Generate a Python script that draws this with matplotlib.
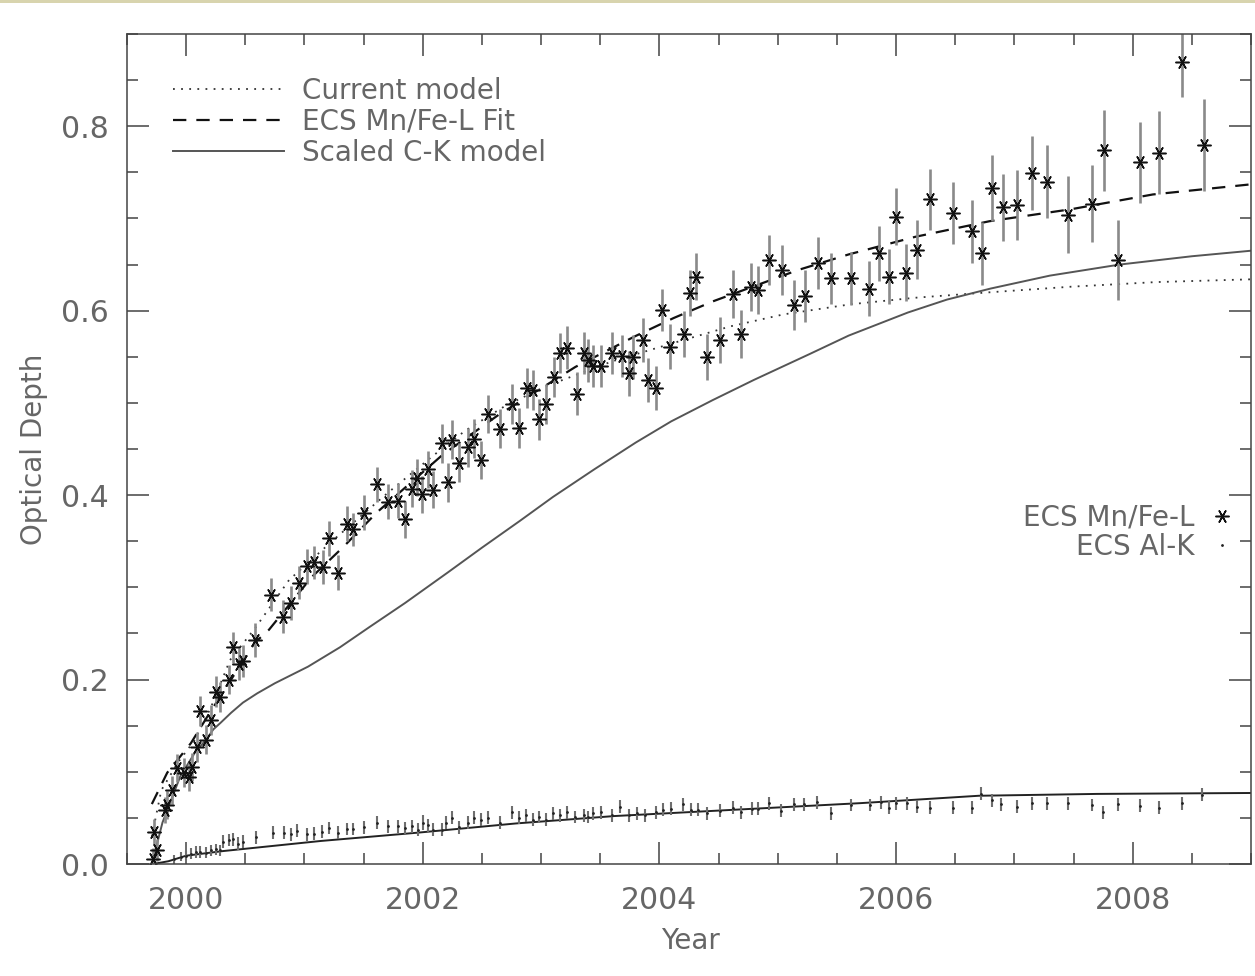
import numpy as np
import matplotlib.pyplot as plt
from matplotlib.patches import Rectangle

# ECS Mn/Fe-L optical depth measurements
mn_year = [1999.72, 1999.73, 1999.75, 1999.82, 1999.84, 1999.88, 1999.92, 1999.98, 2000.02, 2000.05,
           2000.09, 2000.12, 2000.17, 2000.21, 2000.25, 2000.29, 2000.36, 2000.40, 2000.45, 2000.48,
           2000.58, 2000.72, 2000.82, 2000.89, 2000.95, 2001.02, 2001.08, 2001.16, 2001.21, 2001.28,
           2001.36, 2001.41, 2001.50, 2001.61, 2001.71, 2001.79, 2001.85, 2001.91, 2001.95, 2001.99,
           2002.04, 2002.09, 2002.16, 2002.21, 2002.25, 2002.31, 2002.38, 2002.43, 2002.49, 2002.55,
           2002.65, 2002.75, 2002.81, 2002.88, 2002.93, 2002.98, 2003.04, 2003.11, 2003.16, 2003.22,
           2003.30, 2003.36, 2003.40, 2003.44, 2003.51, 2003.60, 2003.68, 2003.74, 2003.78, 2003.86,
           2003.90, 2003.97, 2004.02, 2004.09, 2004.21, 2004.26, 2004.31, 2004.40, 2004.51, 2004.62,
           2004.69, 2004.77, 2004.83, 2004.93, 2005.04, 2005.14, 2005.23, 2005.34, 2005.45, 2005.62,
           2005.77, 2005.86, 2005.94, 2006.00, 2006.08, 2006.18, 2006.29, 2006.48, 2006.64, 2006.73,
           2006.81, 2006.90, 2007.02, 2007.15, 2007.28, 2007.45, 2007.66, 2007.76, 2007.88, 2008.06,
           2008.22, 2008.42, 2008.60]
mn_val = [0.005, 0.035, 0.015, 0.059, 0.064, 0.080, 0.104, 0.099, 0.094, 0.105,
          0.127, 0.166, 0.135, 0.156, 0.187, 0.181, 0.200, 0.235, 0.217, 0.220,
          0.243, 0.292, 0.268, 0.283, 0.305, 0.323, 0.327, 0.322, 0.353, 0.316,
          0.369, 0.363, 0.381, 0.412, 0.393, 0.394, 0.374, 0.407, 0.419, 0.401,
          0.428, 0.406, 0.456, 0.414, 0.460, 0.435, 0.452, 0.461, 0.438, 0.488,
          0.472, 0.499, 0.473, 0.516, 0.514, 0.482, 0.499, 0.528, 0.554, 0.560,
          0.510, 0.554, 0.546, 0.540, 0.540, 0.554, 0.551, 0.532, 0.550, 0.568,
          0.525, 0.516, 0.601, 0.561, 0.575, 0.619, 0.637, 0.550, 0.568, 0.618,
          0.575, 0.626, 0.622, 0.655, 0.644, 0.606, 0.616, 0.652, 0.635, 0.635,
          0.624, 0.662, 0.637, 0.702, 0.641, 0.666, 0.721, 0.706, 0.686, 0.662,
          0.733, 0.712, 0.715, 0.749, 0.740, 0.704, 0.716, 0.774, 0.655, 0.761,
          0.771, 0.870, 0.780]
mn_err = [0.012, 0.014, 0.012, 0.014, 0.015, 0.015, 0.015, 0.016, 0.015, 0.015,
          0.016, 0.016, 0.016, 0.016, 0.017, 0.016, 0.016, 0.017, 0.017, 0.017,
          0.018, 0.018, 0.018, 0.018, 0.018, 0.019, 0.018, 0.018, 0.019, 0.019,
          0.019, 0.018, 0.019, 0.019, 0.019, 0.019, 0.020, 0.020, 0.020, 0.020,
          0.020, 0.020, 0.021, 0.021, 0.021, 0.021, 0.021, 0.021, 0.021, 0.021,
          0.021, 0.022, 0.022, 0.022, 0.022, 0.022, 0.022, 0.022, 0.022, 0.023,
          0.023, 0.023, 0.023, 0.023, 0.023, 0.023, 0.023, 0.024, 0.024, 0.024,
          0.024, 0.024, 0.023, 0.024, 0.025, 0.025, 0.025, 0.025, 0.025, 0.026,
          0.026, 0.026, 0.026, 0.027, 0.027, 0.027, 0.028, 0.028, 0.028, 0.029,
          0.030, 0.030, 0.030, 0.031, 0.031, 0.032, 0.033, 0.034, 0.034, 0.034,
          0.036, 0.036, 0.038, 0.040, 0.040, 0.042, 0.042, 0.044, 0.043, 0.044,
          0.045, 0.038, 0.050]

# ECS Al-K optical depth measurements
al_year = [1999.90, 1999.96, 2000.00, 2000.04, 2000.08, 2000.12, 2000.17, 2000.21, 2000.25, 2000.29,
           2000.31, 2000.36, 2000.40, 2000.44, 2000.48, 2000.59, 2000.73, 2000.83, 2000.89, 2000.94,
           2001.02, 2001.08, 2001.15, 2001.21, 2001.28, 2001.36, 2001.41, 2001.50, 2001.61, 2001.71,
           2001.79, 2001.85, 2001.91, 2001.96, 2002.00, 2002.04, 2002.09, 2002.16, 2002.20, 2002.25,
           2002.31, 2002.38, 2002.43, 2002.49, 2002.55, 2002.65, 2002.75, 2002.81, 2002.87, 2002.93,
           2002.98, 2003.04, 2003.10, 2003.16, 2003.22, 2003.29, 2003.36, 2003.40, 2003.44, 2003.51,
           2003.60, 2003.67, 2003.74, 2003.81, 2003.88, 2003.97, 2004.03, 2004.10, 2004.20, 2004.27,
           2004.33, 2004.40, 2004.51, 2004.62, 2004.69, 2004.78, 2004.83, 2004.93, 2005.03, 2005.14,
           2005.22, 2005.33, 2005.45, 2005.62, 2005.78, 2005.87, 2005.94, 2006.00, 2006.09, 2006.18,
           2006.29, 2006.48, 2006.64, 2006.72, 2006.81, 2006.89, 2007.02, 2007.15, 2007.28, 2007.45,
           2007.66, 2007.75, 2007.88, 2008.06, 2008.22, 2008.42, 2008.59]
al_val = [0.005, 0.008, 0.009, 0.011, 0.013, 0.013, 0.012, 0.015, 0.016, 0.015,
          0.024, 0.026, 0.027, 0.022, 0.024, 0.029, 0.034, 0.034, 0.032, 0.036,
          0.032, 0.033, 0.035, 0.039, 0.034, 0.038, 0.038, 0.040, 0.045, 0.041,
          0.041, 0.039, 0.041, 0.037, 0.045, 0.042, 0.037, 0.037, 0.045, 0.050,
          0.040, 0.045, 0.050, 0.048, 0.050, 0.045, 0.056, 0.050, 0.053, 0.048,
          0.051, 0.048, 0.055, 0.053, 0.056, 0.051, 0.053, 0.051, 0.055, 0.056,
          0.053, 0.062, 0.053, 0.055, 0.053, 0.056, 0.059, 0.060, 0.065, 0.059,
          0.059, 0.055, 0.058, 0.061, 0.056, 0.060, 0.060, 0.066, 0.058, 0.065,
          0.065, 0.067, 0.055, 0.064, 0.064, 0.067, 0.061, 0.066, 0.066, 0.062,
          0.061, 0.061, 0.061, 0.076, 0.069, 0.065, 0.062, 0.066, 0.066, 0.066,
          0.064, 0.056, 0.065, 0.063, 0.061, 0.066, 0.075]
al_err = [0.005, 0.005, 0.005, 0.006, 0.006, 0.006, 0.006, 0.006, 0.006, 0.006,
          0.007, 0.007, 0.007, 0.007, 0.007, 0.007, 0.007, 0.007, 0.007, 0.007,
          0.007, 0.007, 0.007, 0.007, 0.007, 0.007, 0.007, 0.007, 0.007, 0.007,
          0.007, 0.007, 0.007, 0.007, 0.008, 0.007, 0.007, 0.007, 0.007, 0.007,
          0.007, 0.007, 0.007, 0.007, 0.007, 0.007, 0.007, 0.007, 0.007, 0.007,
          0.007, 0.007, 0.007, 0.007, 0.007, 0.007, 0.007, 0.007, 0.007, 0.007,
          0.007, 0.007, 0.007, 0.007, 0.007, 0.007, 0.007, 0.007, 0.007, 0.007,
          0.007, 0.007, 0.007, 0.007, 0.007, 0.007, 0.007, 0.007, 0.007, 0.007,
          0.007, 0.007, 0.007, 0.007, 0.007, 0.007, 0.007, 0.007, 0.007, 0.007,
          0.007, 0.007, 0.007, 0.007, 0.007, 0.007, 0.007, 0.007, 0.007, 0.007,
          0.007, 0.007, 0.007, 0.007, 0.007, 0.007, 0.007]

# model curves
cur_year = [1999.71, 1999.79, 1999.93, 2000.07, 2000.21, 2000.37, 2000.59, 2000.87, 2001.25, 2001.70,
            2002.08, 2002.36, 2002.70, 2003.04, 2003.60, 2004.12, 2004.60, 2005.05, 2005.62, 2006.16,
            2006.80, 2007.48, 2008.20, 2009.00]
cur_val = [0.030, 0.080, 0.110, 0.134, 0.170, 0.221, 0.257, 0.308, 0.352, 0.402,
           0.442, 0.470, 0.497, 0.518, 0.545, 0.565, 0.583, 0.596, 0.607, 0.614,
           0.620, 0.626, 0.631, 0.634]

fit_year = [1999.71, 1999.84, 2000.04, 2000.17, 2000.58, 2000.70, 2001.06, 2001.33, 2001.61, 2002.17,
            2002.64, 2003.29, 2003.79, 2004.12, 2004.45, 2005.17, 2005.60, 2006.16, 2006.79, 2007.48,
            2008.17, 2009.00]
fit_val = [0.065, 0.099, 0.131, 0.158, 0.240, 0.254, 0.311, 0.344, 0.381, 0.444,
           0.487, 0.539, 0.572, 0.592, 0.610, 0.644, 0.661, 0.680, 0.697, 0.710,
           0.726, 0.737]

ck_year = [1999.71, 1999.80, 1999.95, 2000.08, 2000.17, 2000.23, 2000.29, 2000.38, 2000.48, 2000.60,
           2000.75, 2001.03, 2001.30, 2001.55, 2001.85, 2002.21, 2002.50, 2002.82, 2003.10, 2003.45,
           2003.80, 2004.10, 2004.45, 2004.80, 2005.27, 2005.60, 2006.10, 2006.43, 2006.80, 2007.30,
           2007.89, 2008.50, 2009.00]
ck_val = [0.000, 0.045, 0.095, 0.122, 0.135, 0.146, 0.153, 0.164, 0.175, 0.185,
          0.196, 0.214, 0.235, 0.257, 0.283, 0.316, 0.343, 0.372, 0.398, 0.428,
          0.457, 0.480, 0.503, 0.525, 0.553, 0.573, 0.598, 0.612, 0.624, 0.638,
          0.650, 0.659, 0.665]

alk_year = [1999.72, 1999.85, 2000.00, 2000.31, 2001.14, 2001.96, 2002.79, 2003.62, 2004.66, 2005.70,
            2006.70, 2007.70, 2009.00]
alk_val = [0.000, 0.003, 0.009, 0.014, 0.025, 0.034, 0.044, 0.052, 0.059, 0.066,
           0.074, 0.076, 0.077]

txt = '#666666'
plt.rcParams['font.family'] = 'DejaVu Sans'

fig = plt.figure(figsize=(12.55, 9.76), dpi=100)
ax = fig.add_axes([127/1255, 1-864/976, 1124/1255, 830/976])
fig.add_artist(Rectangle((0, 1-3/976), 1, 3/976, transform=fig.transFigure,
                         color='#d8d4ae', lw=0))

# models
l_cur, = ax.plot(cur_year, cur_val, color='#333333', lw=1.3, dashes=(1, 3.5),
                 label='Current model')
l_fit, = ax.plot(fit_year, fit_val, color='#111111', lw=1.6, dashes=(6, 4.5),
                 label='ECS Mn/Fe-L Fit')
l_ck, = ax.plot(ck_year, ck_val, color='#555555', lw=1.4, label='Scaled C-K model')
ax.plot(alk_year, alk_val, color='#222222', lw=1.4)

# data
ax.errorbar(al_year, al_val, yerr=al_err, fmt='none', ecolor='#6e6e6e', elinewidth=1.5)
p_al, = ax.plot(al_year, al_val, ls='none', marker='.', ms=2.0, color='#222222',
                label='ECS Al-K')
ax.errorbar(mn_year, mn_val, yerr=mn_err, fmt='none', ecolor='#8a8a8a', elinewidth=1.9)
p_mn, = ax.plot(mn_year, mn_val, ls='none', marker=(6, 2, 30), ms=10, mew=1.1,
                color='#111111', label='ECS Mn/Fe-L')

ax.set_xlim(1999.71, 2009.0)
ax.set_ylim(0.0, 0.9)
ax.set_xticks([2000, 2002, 2004, 2006, 2008])
ax.set_xticks(np.arange(1999.5, 2009.01, 0.5), minor=True)
ax.set_yticks([0.0, 0.2, 0.4, 0.6, 0.8])
ax.set_yticks(np.arange(0.0, 0.901, 0.05), minor=True)
ax.set_yticklabels(['0.0', '0.2', '0.4', '0.6', '0.8'])
ax.tick_params(which='both', direction='in', top=True, right=True, color='#444444',
               width=1.1, labelcolor=txt, labelsize=21.5)
ax.tick_params(which='major', length=16)
ax.tick_params(which='minor', length=8)
ax.tick_params(axis='x', pad=16)
ax.tick_params(axis='y', pad=13)
for s in ax.spines.values():
    s.set_color('#444444')
    s.set_linewidth(1.1)

ax.set_xlabel('Year', fontsize=20, color=txt)
ax.set_ylabel('Optical Depth', fontsize=20, color=txt)
ax.xaxis.set_label_coords(0.501, -0.076)
ax.yaxis.set_label_coords(-0.07, 0.5)

leg1 = ax.legend(handles=[l_cur, l_fit, l_ck], loc='upper left', bbox_to_anchor=(0.041, 0.948),
                 frameon=False, fontsize=20, handlelength=4.0, handletextpad=0.65,
                 labelspacing=0.1, borderpad=0, borderaxespad=0, labelcolor=txt)
ax.add_artist(leg1)
ax.legend(handles=[p_mn, p_al], loc='center right', bbox_to_anchor=(0.984, 0.40),
          frameon=False, fontsize=20, markerfirst=False, handlelength=0.8,
          handletextpad=0.6, labelspacing=0.05, borderpad=0, borderaxespad=0,
          labelcolor=txt)

fig.savefig('out.png', dpi=100)
